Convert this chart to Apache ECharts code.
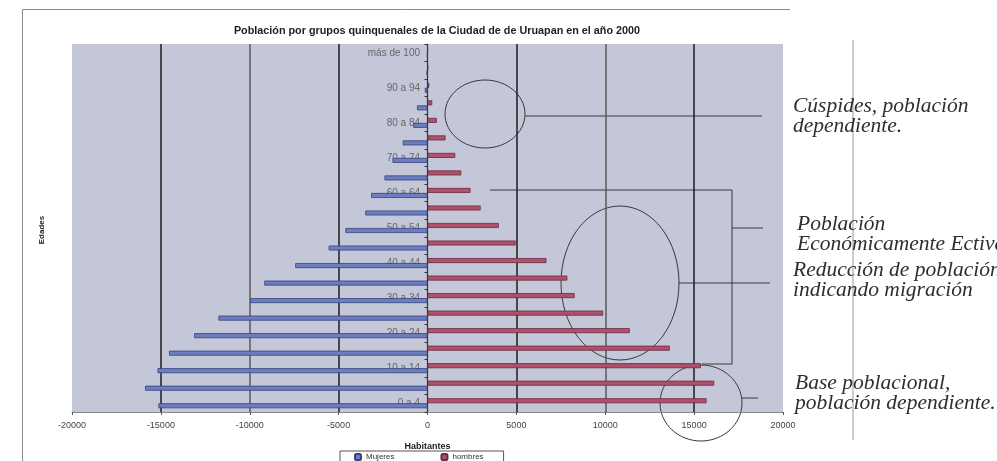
<!DOCTYPE html>
<html>
<head>
<meta charset="utf-8">
<script src="https://cdn.jsdelivr.net/npm/echarts@6/dist/echarts.min.js"></script>
<style>
  html, body { margin: 0; padding: 0; background: #fff; }
  #chart { width: 997px; height: 461px; }
</style>
</head>
<body>
<div id="chart"></div>
<script>
// Grupos quinquenales de edad (de abajo hacia arriba)
const edades = ['0 a 4', '5 a 9', '10 a 14', '15 a 19', '20 a 24', '25 a 29', '30 a 34',
  '35 a 39', '40 a 44', '45 a 49', '50 a 54', '55 a 59', '60 a 64', '65 a 69', '70 a 74',
  '75 a 79', '80 a 84', '85 a 89', '90 a 94', '95 a 99', 'más de 100'];

// Mujeres a la izquierda (valores negativos), hombres a la derecha
const mujeres = [-15140, -15890, -15190, -14540, -13130, -11760, -9970, -9180, -7440, -5560,
  -4620, -3500, -3170, -2420, -1970, -1390, -800, -590, -150, -50, -20];
const hombres = [15700, 16130, 15380, 13630, 11380, 9880, 8280, 7870, 6690, 4960,
  4010, 2990, 2420, 1900, 1560, 1015, 525, 265, 100, 30, 10];

const ejeMin = -20000;
const ejeMax = 20000;
const ejePaso = 5000;

const titulo = 'Población por grupos quinquenales de la Ciudad de de Uruapan en el año 2000';

// Notas explicativas a la derecha de la pirámide
const notas = [
  { texto: 'Cúspides, población\ndependiente.', x: 793, y: 96 },
  { texto: 'Población\nEconómicamente Ectiva', x: 797, y: 214 },
  { texto: 'Reducción de población\nindicando migración', x: 793, y: 260 },
  { texto: 'Base poblacional,\npoblación dependiente.', x: 795, y: 373 }
];

const trazo = { stroke: '#3a3a3a', lineWidth: 1, fill: null };

const graficos = [
  // marco del área del gráfico
  { type: 'polyline', shape: { points: [[22.5, 461], [22.5, 9.5], [790, 9.5]] },
    style: { stroke: '#8a8a8a', lineWidth: 1, fill: null }, silent: true },
  // título del eje vertical
  { type: 'text', x: 42, y: 230, rotation: Math.PI / 2, silent: true,
    style: { text: 'Edades', fill: '#222', align: 'center', verticalAlign: 'middle',
      font: 'bold 8px "Liberation Sans", Arial, sans-serif' } },
  // línea vertical de la hoja
  { type: 'line', shape: { x1: 853, y1: 40, x2: 853, y2: 440 },
    style: { stroke: '#9a9a9a', lineWidth: 1 }, silent: true },
  // cúspide
  { type: 'ellipse', shape: { cx: 485, cy: 114, rx: 40, ry: 34 }, style: trazo, silent: true },
  { type: 'line', shape: { x1: 525, y1: 116, x2: 762, y2: 116 }, style: trazo, silent: true },
  // población económicamente activa
  { type: 'polyline', shape: { points: [[490, 190], [732, 190], [732, 364], [702, 364]] },
    style: trazo, silent: true },
  { type: 'line', shape: { x1: 732, y1: 228, x2: 763, y2: 228 }, style: trazo, silent: true },
  // migración
  { type: 'ellipse', shape: { cx: 620, cy: 283, rx: 59, ry: 77 }, style: trazo, silent: true },
  { type: 'line', shape: { x1: 679, y1: 283, x2: 770, y2: 283 }, style: trazo, silent: true },
  // base
  { type: 'ellipse', shape: { cx: 701, cy: 403, rx: 41, ry: 38 }, style: trazo, silent: true },
  { type: 'line', shape: { x1: 742, y1: 398, x2: 758, y2: 398 }, style: trazo, silent: true }
];

notas.forEach(n => {
  graficos.push({
    type: 'text', x: n.x, y: n.y, silent: true,
    style: {
      text: n.texto, fill: '#2e2e2e',
      font: 'italic 21.5px "Liberation Serif", "DejaVu Serif", serif',
      lineHeight: 20, verticalAlign: 'top', align: 'left'
    }
  });
});

const chart = echarts.init(document.getElementById('chart'), null, { renderer: 'canvas' });

// Las etiquetas de edad van junto al eje central (valor 0)
const margenEtiquetas = 72 - 420;

chart.setOption({
  backgroundColor: '#ffffff',
  animation: false,
  title: {
    text: titulo,
    left: 432, top: 21, textAlign: 'center',
    textStyle: { fontFamily: 'Liberation Sans, Arial, sans-serif', fontSize: 10.8, fontWeight: 'bold', color: '#1e1e1e' }
  },
  legend: {
    data: ['Mujeres', 'hombres'],
    left: 340, top: 451,
    padding: [2, 20, 4, 14],
    itemGap: 46, itemWidth: 6, itemHeight: 6,
    borderColor: '#555', borderWidth: 1,
    textStyle: { fontFamily: 'Liberation Sans, Arial, sans-serif', fontSize: 8, color: '#333' }
  },
  grid: {
    left: 72, right: 214, top: 44, bottom: 49,
    containLabel: false, outerBoundsMode: 'none',
    show: true, backgroundColor: '#c3c7d7', borderWidth: 0
  },
  xAxis: {
    type: 'value', min: ejeMin, max: ejeMax, interval: ejePaso,
    name: 'Habitantes', nameLocation: 'middle', nameGap: 30,
    nameTextStyle: { fontFamily: 'Liberation Sans, Arial, sans-serif', fontSize: 9, fontWeight: 'bold', color: '#222' },
    axisLine: { show: true, lineStyle: { color: '#8a8a8a', width: 1 } },
    axisTick: { show: true, length: 3, lineStyle: { color: '#555' } },
    axisLabel: {
      margin: 9, fontFamily: 'Liberation Sans, Arial, sans-serif', fontSize: 9, color: '#444',
      formatter: v => String(v)
    },
    splitLine: {
      show: true,
      lineStyle: {
        width: 1.5,
        color: ['rgba(0,0,0,0)', '#1c1c1c', '#5a5a5a', '#1c1c1c', 'rgba(0,0,0,0)',
                '#1c1c1c', '#5a5a5a', '#1c1c1c', 'rgba(0,0,0,0)']
      }
    }
  },
  yAxis: {
    type: 'category', data: edades,
    axisLine: { show: true, onZero: true, lineStyle: { color: '#333', width: 1.2 } },
    axisTick: { show: true, interval: 0, length: 3, lineStyle: { color: '#333' } },
    axisLabel: {
      interval: 1, margin: margenEtiquetas,
      fontFamily: 'Liberation Sans, Arial, sans-serif', fontSize: 10, color: '#666'
    },
    splitLine: { show: false }
  },
  series: [
    {
      name: 'hombres', type: 'bar', data: hombres,
      barWidth: 5, barGap: '0%',
      itemStyle: { color: '#b0506c', borderColor: '#6a2a40', borderWidth: 0.8 }
    },
    {
      name: 'Mujeres', type: 'bar', data: mujeres,
      barWidth: 5, barGap: '0%',
      itemStyle: { color: '#6e7cc2', borderColor: '#36437e', borderWidth: 0.8 }
    }
  ],
  graphic: graficos
});
</script>
</body>
</html>
